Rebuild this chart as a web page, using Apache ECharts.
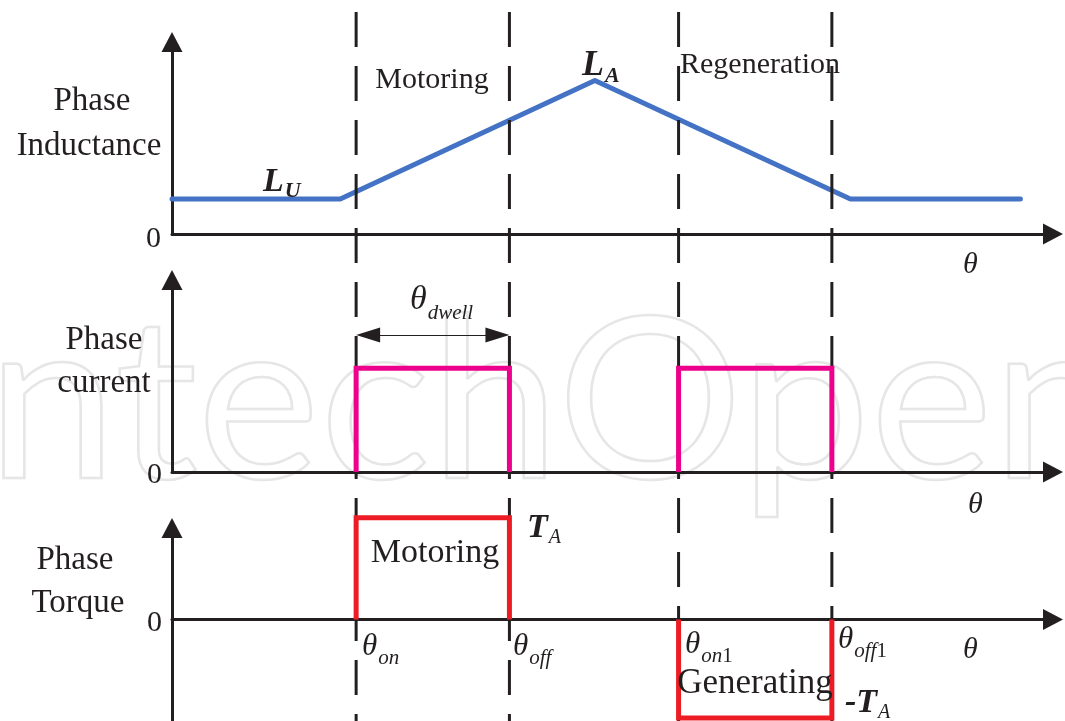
<!DOCTYPE html>
<html>
<head>
<meta charset="utf-8">
<title>Phase inductance, current and torque</title>
<script src="https://cdn.jsdelivr.net/npm/echarts@6/dist/echarts.min.js"></script>
<style>
  html, body { margin: 0; padding: 0; background: #fff; }
  #main { width: 1065px; height: 721px; }
</style>
</head>
<body>
<div id="main"></div>
<script>
// rotor angle runs 0..100 (arbitrary units) on every panel
var thetaMax = 100;
// switching angles: θon, θoff, θon1, θoff1
var switchAngles = [20.9, 38.3, 57.5, 74.9];
// phase inductance trapezoid corners
var inductanceTheta = [0, 19.1, 48.0, 77.0, 96.3];
var inductanceValue = [1.0, 1.0, 4.4, 1.0, 1.0];
// level of current and torque in the two conduction windows
var currentLevel = [1, 1];
var torqueLevel = [1, -0.97];
// θdwell arrow height on the current panel
var dwellLevel = 1.32;

var ink = '#231f20';
var serif = '"Liberation Serif", "Times New Roman", serif';

function pulse(a, b, h) {
  return [[a, 0], [a, h], [b, h], [b, 0]];
}

var ctx = document.createElement('canvas').getContext('2d');
function textWidth(s, size, o) {
  ctx.font = (o.italic ? 'italic ' : '') + (o.bold ? 'bold ' : '') + size + 'px ' + serif;
  return ctx.measureText(s).width;
}
function txt(x, y, s, size, o) {
  o = o || {};
  return {
    type: 'text', x: x, y: y, z: 100, silent: true,
    style: {
      text: s, fill: ink, fontFamily: serif, fontSize: size,
      fontStyle: o.italic ? 'italic' : 'normal',
      fontWeight: o.bold ? 'bold' : 'normal',
      align: o.align || 'left', verticalAlign: 'middle'
    }
  };
}
// symbol followed by subscript pieces
function subbed(x, y, main, size, mo, parts) {
  var els = [txt(x, y, main, size, mo)];
  var cx = x + textWidth(main, size, mo) + 1;
  parts.forEach(function (p) {
    els.push(txt(cx, y + p.dy, p.s, p.size, p));
    cx += textWidth(p.s, p.size, p);
  });
  return els;
}

var gridPos = [
  { left: 172, right: 12, top: 42, height: 192 },
  { left: 172, right: 12, top: 280, height: 192 },
  { left: 172, right: 12, top: 528, bottom: 0 },
  { left: 172, right: 12, top: 12, bottom: 0 }
];
var yRange = [[0, 5.5], [0, 1.85], [-1, 0.9], [0, 1]];

var axisLine = {
  show: true,
  lineStyle: { color: ink, width: 3 },
  symbol: ['none', 'triangle'],
  symbolSize: [21, 20]
};

var xAxes = gridPos.map(function (g, i) {
  return {
    type: 'value', gridIndex: i, min: 0, max: thetaMax,
    show: i < 3, axisLine: axisLine,
    axisTick: { show: false }, axisLabel: { show: false }, splitLine: { show: false }
  };
});
var yAxes = gridPos.map(function (g, i) {
  return {
    type: 'value', gridIndex: i, min: yRange[i][0], max: yRange[i][1], interval: 1,
    show: i < 3, axisLine: axisLine,
    axisTick: { show: false }, axisLabel: { show: false }, splitLine: { show: false }
  };
});

var series = [];
series.push({
  type: 'line', xAxisIndex: 0, yAxisIndex: 0, z: 2, silent: true,
  symbol: 'none',
  data: inductanceTheta.map(function (t, i) { return [t, inductanceValue[i]]; }),
  lineStyle: { color: '#4472c4', width: 5, cap: 'round', join: 'round' }
});
currentLevel.forEach(function (h, k) {
  var s = {
    type: 'line', xAxisIndex: 1, yAxisIndex: 1, z: 5, silent: true, clip: false,
    symbol: 'none',
    data: pulse(switchAngles[2 * k], switchAngles[2 * k + 1], h),
    lineStyle: { color: '#ec008c', width: 5, join: 'miter' }
  };
  if (k === 0) {
    var pad = 12 / 8.81;
    s.markLine = {
      silent: true, symbol: ['triangle', 'triangle'], symbolSize: [15, 24],
      label: { show: false },
      lineStyle: { color: ink, width: 1, type: 'solid' },
      data: [[
        { coord: [switchAngles[0] + pad, dwellLevel] },
        { coord: [switchAngles[1] - pad, dwellLevel] }
      ]]
    };
  }
  series.push(s);
});
torqueLevel.forEach(function (h, k) {
  series.push({
    type: 'line', xAxisIndex: 2, yAxisIndex: 2, z: 5, silent: true, clip: false,
    symbol: 'none',
    data: pulse(switchAngles[2 * k], switchAngles[2 * k + 1], h),
    lineStyle: { color: '#ed1c24', width: 5, join: 'miter' }
  });
});
switchAngles.forEach(function (a) {
  series.push({
    type: 'line', xAxisIndex: 3, yAxisIndex: 3, z: 3, silent: true,
    symbol: 'none',
    data: [[a, 1], [a, 0]],
    lineStyle: { color: ink, width: 3, type: [35, 19] }
  });
});

var it = { italic: true };
var bi = { italic: true, bold: true };
var graphics = [
  {
    type: 'text', x: -76, y: 405, z: -1, silent: true, scaleX: 1.03,
    style: { text: 'IntechOpen', fontFamily: 'Lato', fontSize: 225, fill: 'none',
      stroke: '#e6e6e6', lineWidth: 2.5, verticalAlign: 'middle' }
  },
  txt(92, 101, 'Phase', 33, { align: 'center' }),
  txt(89, 146, 'Inductance', 33, { align: 'center' }),
  txt(432, 80, 'Motoring', 30, { align: 'center' }),
  txt(760, 65, 'Regeneration', 30, { align: 'center' }),
  txt(104, 340, 'Phase', 33, { align: 'center' }),
  txt(104, 383, 'current', 33, { align: 'center' }),
  txt(75, 560, 'Phase', 33, { align: 'center' }),
  txt(78, 603, 'Torque', 33, { align: 'center' }),
  txt(435, 553, 'Motoring', 34, { align: 'center' }),
  txt(755, 684, 'Generating', 35, { align: 'center' }),
  txt(161, 239, '0', 30, { align: 'right' }),
  txt(162, 475, '0', 30, { align: 'right' }),
  txt(162, 623, '0', 30, { align: 'right' }),
  txt(963, 265, 'θ', 30, it),
  txt(968, 505, 'θ', 30, it),
  txt(963, 650, 'θ', 30, it)
];
graphics = graphics.concat(
  subbed(582, 66, 'L', 36, bi, [{ s: 'A', size: 22, dy: 10, italic: true, bold: true }]),
  subbed(263, 182, 'L', 34, bi, [{ s: 'U', size: 22, dy: 9, italic: true, bold: true }]),
  subbed(527, 528, 'T', 34, bi, [{ s: 'A', size: 20, dy: 10, italic: true }]),
  subbed(845, 703, '-T', 34, bi, [{ s: 'A', size: 20, dy: 10, italic: true }]),
  subbed(410, 300, 'θ', 34, it, [{ s: 'dwell', size: 21, dy: 13, italic: true }]),
  subbed(362, 647, 'θ', 31, it, [{ s: 'on', size: 21, dy: 11, italic: true }]),
  subbed(513, 647, 'θ', 31, it, [{ s: 'off', size: 21, dy: 11, italic: true }]),
  subbed(685, 645, 'θ', 31, it, [{ s: 'on', size: 21, dy: 11, italic: true }, { s: '1', size: 21, dy: 11 }]),
  subbed(838, 640, 'θ', 31, it, [{ s: 'off', size: 21, dy: 11, italic: true }, { s: '1', size: 21, dy: 11 }])
);

var chart = echarts.init(document.getElementById('main'));
chart.setOption({
  animation: false,
  backgroundColor: '#ffffff',
  grid: gridPos,
  xAxis: xAxes,
  yAxis: yAxes,
  series: series,
  graphic: graphics
});
</script>
</body>
</html>
